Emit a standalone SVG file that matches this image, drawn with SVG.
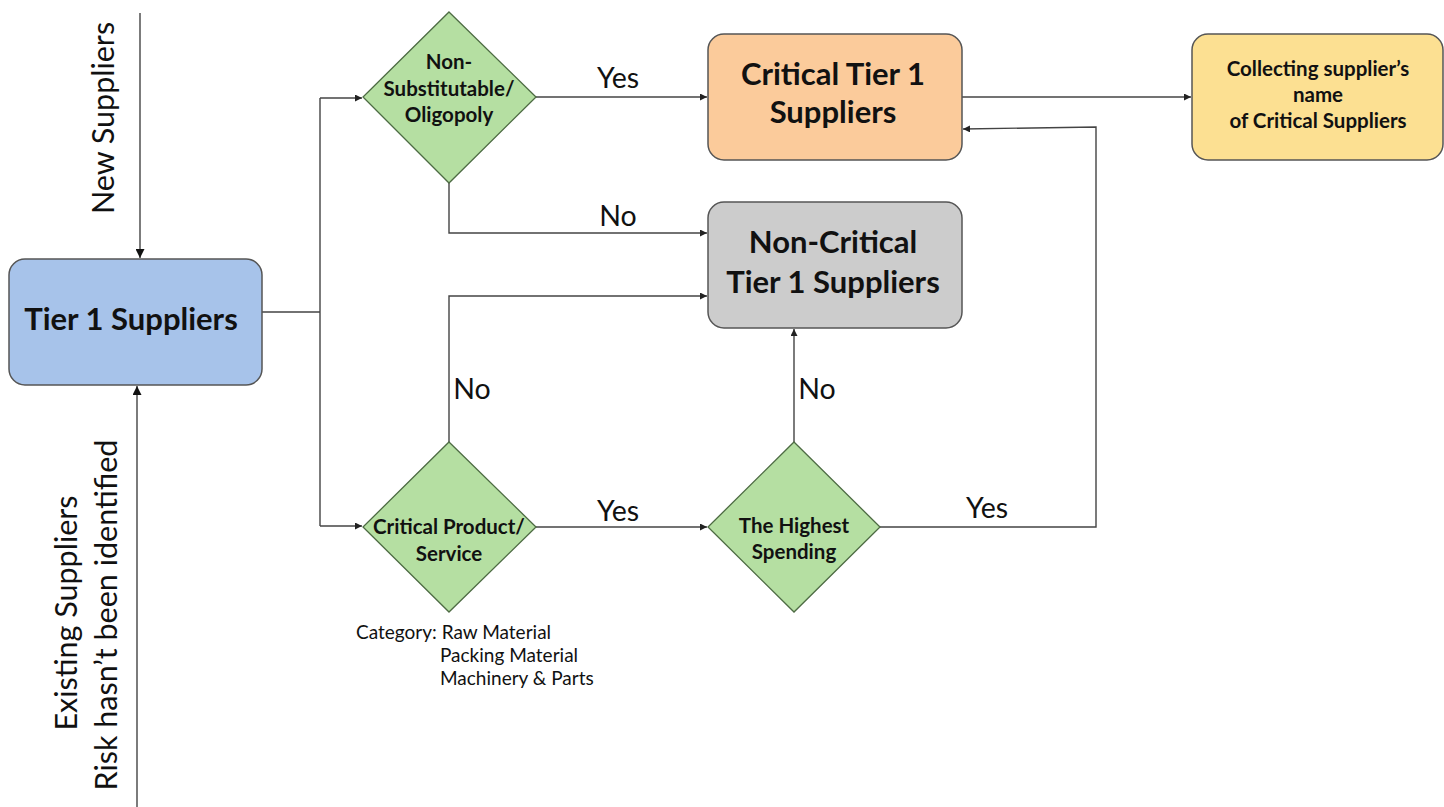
<svg xmlns="http://www.w3.org/2000/svg" width="1444" height="807" viewBox="0 0 1444 807">
<defs>
<marker id="ah" viewBox="0 0 10 10" refX="10" refY="5" markerWidth="7" markerHeight="7" markerUnits="userSpaceOnUse" orient="auto">
<path d="M0,0 L10,5 L0,10 z" fill="#222"/>
</marker>
<marker id="ahb" viewBox="0 0 10 10" refX="10" refY="5" markerWidth="9" markerHeight="9" markerUnits="userSpaceOnUse" orient="auto">
<path d="M0,0 L10,5 L0,10 z" fill="#111"/>
</marker>
</defs>
<style>
text{font-family:Lato,"Open Sans","Liberation Sans",sans-serif;fill:#111}
.box{stroke:#555;stroke-width:1.5}
.dia{fill:#b5dfa2;stroke:#4d6b43;stroke-width:1.3}
.b{font-weight:bold;text-anchor:middle}
.big{font-size:31px}
.mid{font-size:20.5px}
.lbl{font-size:28.5px;text-anchor:middle}
.side{font-size:30.5px;text-anchor:middle}
.cat{font-size:19px}
.c{fill:none;stroke:#444;stroke-width:1.4}
</style>
<rect width="1444" height="807" fill="#fff"/>
<g id="connectors">
<path class="c" d="M140,13 V258" marker-end="url(#ahb)"/>
<path class="c" d="M137,807 V386" marker-end="url(#ahb)"/>
<path class="c" d="M262,312 H320 M320,98 V526"/>
<path class="c" d="M320,98 H362" marker-end="url(#ah)"/>
<path class="c" d="M320,526 H362" marker-end="url(#ah)"/>
<path class="c" d="M536,97 H707" marker-end="url(#ah)"/>
<path class="c" d="M449,183 V233 H707" marker-end="url(#ah)"/>
<path class="c" d="M449,442 V296 H707" marker-end="url(#ah)"/>
<path class="c" d="M536,527 H707" marker-end="url(#ah)"/>
<path class="c" d="M794,442 V329" marker-end="url(#ah)"/>
<path class="c" d="M880,527 H1096 V127 L963,129" marker-end="url(#ah)"/>
<path class="c" d="M962,97 H1191" marker-end="url(#ah)"/>
<text class="lbl" x="618" y="88">Yes</text>
<text class="lbl" x="618" y="226">No</text>
<text class="lbl" x="472" y="399">No</text>
<text class="lbl" x="618" y="521">Yes</text>
<text class="lbl" x="817" y="399">No</text>
<text class="lbl" x="987" y="518">Yes</text>
</g>
<g id="new-suppliers">
<text class="side" transform="translate(114,118) rotate(-90)">New Suppliers</text>
</g>
<g id="existing-suppliers">
<text class="side" transform="translate(77,613) rotate(-90)">Existing Suppliers</text>
<text class="side" transform="translate(117,615) rotate(-90)">Risk hasn’t been identified</text>
</g>
<g id="tier1">
<rect class="box" x="9" y="259" width="253" height="126" rx="16" fill="#a7c3ea"/>
<text class="b big" x="131" y="330">Tier 1 Suppliers</text>
</g>
<g id="non-substitutable">
<polygon class="dia" points="449,12 536,97 449,183 363,97"/>
<text class="b mid" x="449" y="69">Non-</text>
<text class="b mid" x="449" y="96">Substitutable/</text>
<text class="b mid" x="449" y="122">Oligopoly</text>
</g>
<g id="critical-product">
<polygon class="dia" points="449,442 536,527 449,612 363,527"/>
<text class="b mid" x="449" y="534">Critical Product/</text>
<text class="b mid" x="449" y="561">Service</text>
</g>
<g id="highest-spending">
<polygon class="dia" points="794,442 880,527 794,612 708,527"/>
<text class="b mid" x="794" y="533">The Highest</text>
<text class="b mid" x="794" y="559">Spending</text>
</g>
<g id="critical-tier1">
<rect class="box" x="708" y="34" width="254" height="126" rx="16" fill="#fbcb9b"/>
<text class="b big" x="833" y="85">Critical Tier 1</text>
<text class="b big" x="833" y="123">Suppliers</text>
</g>
<g id="non-critical">
<rect class="box" x="708" y="202" width="254" height="126" rx="16" fill="#cccccc"/>
<text class="b big" x="833" y="253">Non-Critical</text>
<text class="b big" x="833" y="293">Tier 1 Suppliers</text>
</g>
<g id="collecting">
<rect class="box" x="1192" y="34" width="251" height="126" rx="16" fill="#fce092"/>
<text class="b mid" x="1318" y="76">Collecting supplier’s</text>
<text class="b mid" x="1318" y="102">name</text>
<text class="b mid" x="1318" y="128">of Critical Suppliers</text>
</g>
<g id="category">
<text class="cat" x="356" y="639">Category: Raw Material</text>
<text class="cat" x="440" y="662">Packing Material</text>
<text class="cat" x="440" y="685">Machinery &amp; Parts</text>
</g>
</svg>
